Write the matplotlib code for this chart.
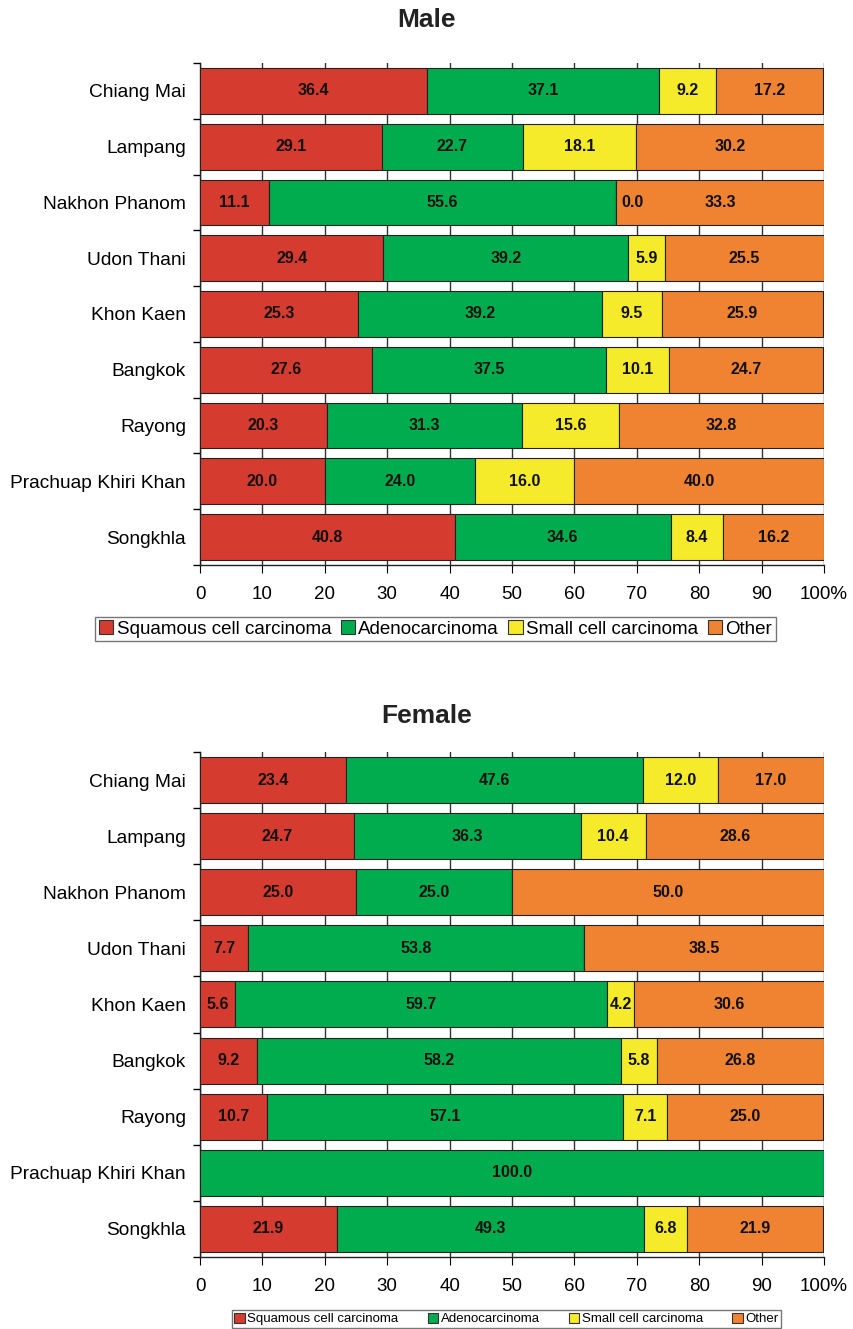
import numpy as np
import matplotlib.pyplot as plt
from matplotlib.patches import Patch

plt.rcParams['font.family'] = ['Liberation Sans', 'DejaVu Sans']

provinces = ['Chiang Mai', 'Lampang', 'Nakhon Phanom', 'Udon Thani', 'Khon Kaen',
             'Bangkok', 'Rayong', 'Prachuap Khiri Khan', 'Songkhla']
types = ['Squamous cell carcinoma', 'Adenocarcinoma', 'Small cell carcinoma', 'Other']
colors = ['#D63B2F', '#00AC4E', '#F5EB2A', '#EF8332']

# percent by histology; nan = not present (no label drawn)
male_scc = [36.4, 29.1, 11.1, 29.4, 25.3, 27.6, 20.3, 20.0, 40.8]
male_adeno = [37.1, 22.7, 55.6, 39.2, 39.2, 37.5, 31.3, 24.0, 34.6]
male_small = [9.2, 18.1, 0.0, 5.9, 9.5, 10.1, 15.6, 16.0, 8.4]
male_other = [17.2, 30.2, 33.3, 25.5, 25.9, 24.7, 32.8, 40.0, 16.2]

nan = np.nan
female_scc = [23.4, 24.7, 25.0, 7.7, 5.6, 9.2, 10.7, nan, 21.9]
female_adeno = [47.6, 36.3, 25.0, 53.8, 59.7, 58.2, 57.1, 100.0, 49.3]
female_small = [12.0, 10.4, nan, nan, 4.2, 5.8, 7.1, nan, 6.8]
female_other = [17.0, 28.6, 50.0, 38.5, 30.6, 26.8, 25.0, nan, 21.9]

fig = plt.figure(figsize=(8.54, 13.29), dpi=100)


def draw(ax, series, title, title_y):
    y = np.arange(len(provinces))
    left = np.zeros(len(provinces))
    for vals, col in zip(series, colors):
        v = np.array(vals, dtype=float)
        w = np.nan_to_num(v)
        ax.barh(y, w, left=left, height=0.82, color=col, edgecolor='#222222',
                linewidth=0.8, zorder=3)
        for yi, (val, l, wi) in enumerate(zip(v, left, w)):
            if np.isnan(val):
                continue
            if wi == 0:
                ax.text(l + 0.8, yi, f'{val:.1f}', ha='left', va='center',
                        fontsize=11.5, fontweight='bold', color='#111111', zorder=4)
            else:
                ax.text(l + wi / 2, yi, f'{val:.1f}', ha='center', va='center',
                        fontsize=11.5, fontweight='bold', color='#111111', zorder=4)
        left = left + w

    ax.set_xlim(0, 100)
    ax.set_ylim(len(provinces) - 0.5, -0.5)
    ax.set_xticks(np.arange(0, 101, 10))
    ax.set_xticklabels([str(t) for t in range(0, 100, 10)] + ['100%'])
    ax.set_yticks(y)
    ax.set_yticklabels(provinces)
    ax.set_yticks(np.arange(-0.5, len(provinces)), minor=True)
    ax.tick_params(axis='y', which='major', length=0, labelsize=13.8, pad=10)
    ax.tick_params(axis='y', which='minor', length=5, direction='out', width=1)
    ax.tick_params(axis='x', length=6, direction='out', labelsize=13.5, pad=9)
    ax.grid(axis='x', color='#333333', linewidth=1, zorder=0)
    for s in ['top', 'right']:
        ax.spines[s].set_visible(False)
    for s in ['left', 'bottom']:
        ax.spines[s].set_color('#222222')
        ax.spines[s].set_linewidth(1)
    fig.text(0.5, title_y, title, ha='center', va='center', fontsize=19,
             fontweight='bold', color='#222222')


ax1 = fig.add_axes([0.2342, 0.5749, 0.7307, 0.3777])
draw(ax1, [male_scc, male_adeno, male_small, male_other], 'Male', 1 - 20 / 1329)

ax2 = fig.add_axes([0.2342, 0.0542, 0.7307, 0.3800])
draw(ax2, [female_scc, female_adeno, female_small, female_other], 'Female', 1 - 716 / 1329)

handles = [Patch(facecolor=c, edgecolor='#333333', linewidth=0.8) for c in colors]

leg1 = fig.legend(handles, types, ncol=4, loc='center', bbox_to_anchor=(0.51, 1 - 629 / 1329),
                  fontsize=13.5, frameon=True, fancybox=False, handlelength=0.75,
                  handleheight=0.75, handletextpad=0.2, columnspacing=0.5,
                  borderpad=0.2, borderaxespad=0)
leg1.get_frame().set_edgecolor('#555555')
leg1.get_frame().set_linewidth(1)

leg2 = fig.legend(handles, types, ncol=4, loc='center', bbox_to_anchor=(0.593, 1 - 1319 / 1329),
                  fontsize=9.5, frameon=True, fancybox=False, handlelength=0.8,
                  handleheight=0.8, handletextpad=0.2, columnspacing=2.2,
                  borderpad=0.2, borderaxespad=0)
leg2.get_frame().set_edgecolor('#555555')
leg2.get_frame().set_linewidth(1)

fig.savefig('out.png', dpi=100, facecolor='white')
